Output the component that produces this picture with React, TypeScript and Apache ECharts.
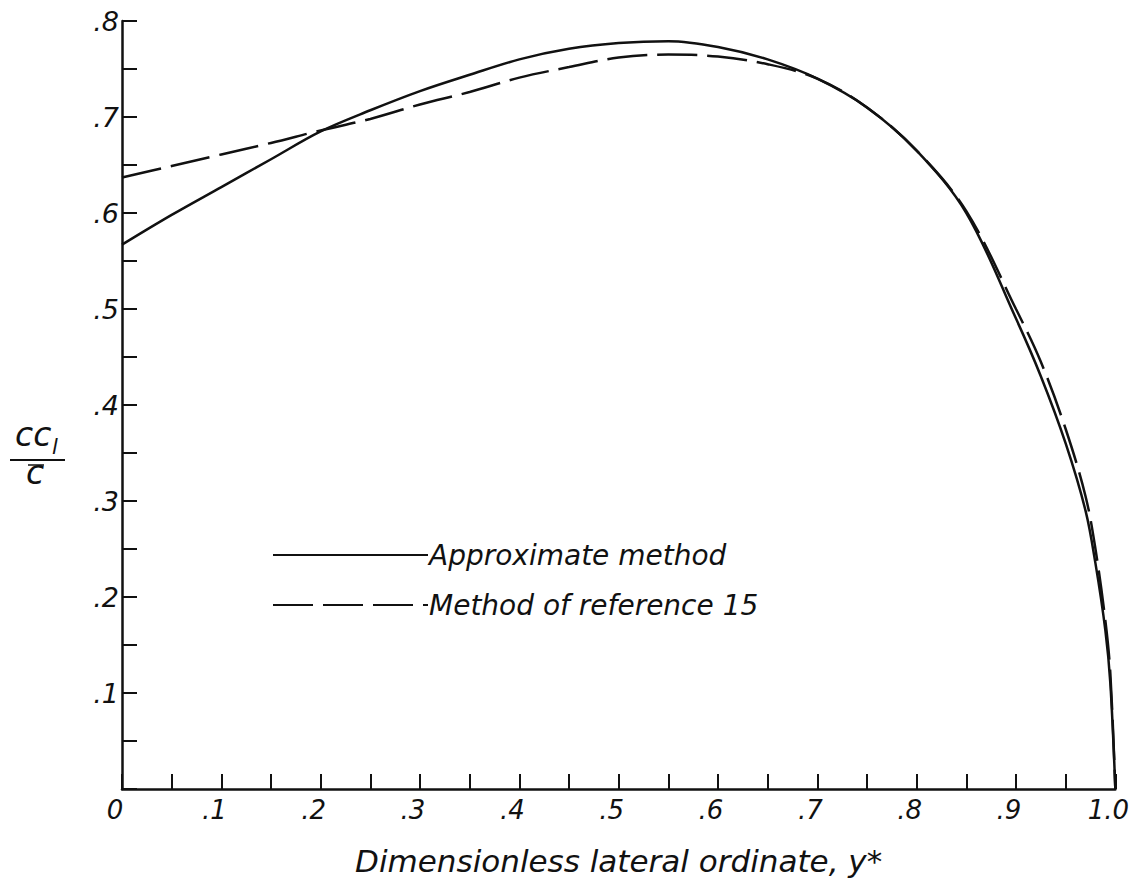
import React, { useEffect, useRef } from "react";
import * as echarts from "echarts";

const xValues = [0, 0.05, 0.1, 0.15, 0.2, 0.25, 0.3, 0.35, 0.4, 0.45, 0.5, 0.55, 0.6, 0.65, 0.7, 0.75, 0.8, 0.85, 0.9, 0.925, 0.95, 0.97, 0.98, 0.99, 0.995, 1.0];
const approximateMethod = [0.567, 0.598, 0.627, 0.656, 0.685, 0.707, 0.727, 0.744, 0.760, 0.771, 0.777, 0.779, 0.773, 0.760, 0.740, 0.710, 0.665, 0.600, 0.490, 0.430, 0.360, 0.290, 0.235, 0.165, 0.110, 0.0];
const reference15 = [0.637, 0.649, 0.661, 0.673, 0.686, 0.698, 0.713, 0.726, 0.741, 0.752, 0.762, 0.765, 0.763, 0.755, 0.740, 0.710, 0.665, 0.602, 0.500, 0.445, 0.375, 0.305, 0.250, 0.175, 0.120, 0.0];

const seriesNames = ["Approximate method", "Method of reference 15"];
const xAxisTitle = "Dimensionless lateral ordinate, y*";

const FONT = "'DejaVu Sans', sans-serif";
const INK = "#111";

function fmtX(v: number): string {
  if (Math.abs(v) < 1e-9) return "0";
  if (Math.abs(v - 1) < 1e-9) return "1.0";
  return "." + Math.round(v * 10);
}
function fmtY(v: number): string {
  if (Math.abs(v) < 1e-9) return "";
  return "." + Math.round(v * 10);
}

export default function App() {
  const ref = useRef<HTMLDivElement>(null);
  useEffect(() => {
    if (!ref.current) return;
    const chart = echarts.init(ref.current, undefined, { renderer: "svg" });
    const pairs = (ys: number[]) => xValues.map((x, i) => [x, ys[i]]);
    chart.setOption({
      animation: false,
      backgroundColor: "#fff",
      grid: { left: 122, right: 15, top: 21, bottom: 80 },
      legend: {
        orient: "vertical",
        left: 272,
        top: 540,
        itemWidth: 155,
        itemHeight: 14,
        itemGap: 20,
        padding: 0,
        selectedMode: false,
        itemStyle: { opacity: 0 },
        textStyle: { fontFamily: FONT, fontStyle: "italic", fontSize: 28, color: INK, padding: [0, 0, 0, -4], lineHeight: 30 },
        data: seriesNames,
      },
      xAxis: {
        type: "value",
        min: 0,
        max: 1,
        interval: 0.1,
        name: xAxisTitle,
        nameLocation: "middle",
        nameGap: 56,
        nameTextStyle: { fontFamily: FONT, fontStyle: "italic", fontSize: 31, color: INK },
        axisLine: { show: true, lineStyle: { color: INK, width: 2.5 } },
        axisTick: { show: true, inside: true, length: 15, lineStyle: { color: INK, width: 2 } },
        minorTick: { show: true, splitNumber: 2, length: 15, lineStyle: { color: INK, width: 2 } },
        splitLine: { show: false },
        axisLabel: { formatter: fmtX, fontFamily: FONT, fontStyle: "italic", fontSize: 26, color: INK, margin: 8, padding: [0, 14, 0, 0] },
      },
      yAxis: {
        type: "value",
        min: 0,
        max: 0.8,
        interval: 0.1,
        axisLine: { show: true, lineStyle: { color: INK, width: 2.5 } },
        axisTick: { show: true, inside: true, length: 15, lineStyle: { color: INK, width: 2 } },
        minorTick: { show: true, splitNumber: 2, length: 15, lineStyle: { color: INK, width: 2 } },
        splitLine: { show: false },
        axisLabel: { formatter: fmtY, fontFamily: FONT, fontStyle: "italic", fontSize: 27, color: INK, margin: 3 },
      },
      graphic: [
        { type: "text", left: 15, top: 418, style: { text: "cc", font: "italic 33px 'DejaVu Sans'", fill: INK } },
        { type: "text", left: 52, top: 436, style: { text: "l", font: "italic 21px 'DejaVu Sans'", fill: INK } },
        { type: "line", shape: { x1: 10, y1: 460, x2: 65, y2: 460 }, style: { stroke: INK, lineWidth: 2 } },
        { type: "line", shape: { x1: 28, y1: 465, x2: 44, y2: 465 }, style: { stroke: INK, lineWidth: 1.5 } },
        { type: "text", left: 26, top: 456, style: { text: "c", font: "italic 33px 'DejaVu Sans'", fill: INK } },
      ],
      series: [
        {
          name: seriesNames[0],
          type: "line",
          data: pairs(approximateMethod),
          smooth: 0.35,
          symbol: "none",
          lineStyle: { color: INK, width: 2.5, type: "solid" },
          itemStyle: { color: INK },
        },
        {
          name: seriesNames[1],
          type: "line",
          data: pairs(reference15),
          smooth: 0.35,
          symbol: "none",
          lineStyle: { color: INK, width: 2.5, type: [40, 10] },
          itemStyle: { color: INK },
        },
      ],
    });
    return () => chart.dispose();
  }, []);
  return (
    <div
      ref={ref}
      style={{ position: "fixed", left: 0, top: 0, width: 1132, height: 881, background: "#fff" }}
    />
  );
}
